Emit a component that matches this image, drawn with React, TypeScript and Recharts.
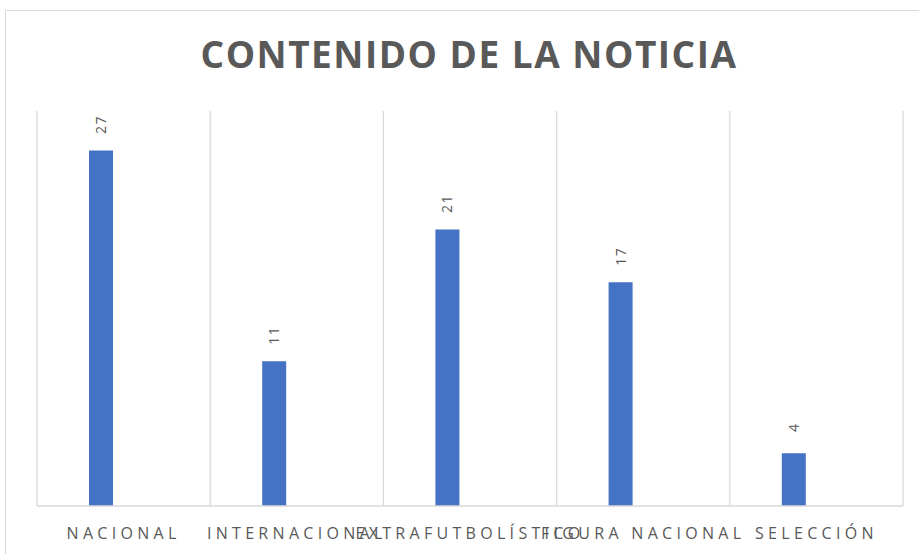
import React from "react";
import { BarChart, Bar, XAxis, YAxis, CartesianGrid, LabelList } from "recharts";

// datos
const categorias = ["NACIONAL", "INTERNACIONAL", "EXTRAFUTBOLÍSTICO", "FIGURA NACIONAL", "SELECCIÓN"];
const noticias = [27, 11, 21, 17, 4];
// segunda serie vacía (deja la barra desplazada a la izquierda como en Excel)
const vacio = [0, 0, 0, 0, 0];
const limites = [0, 1, 2, 3, 4, 5];

const data = categorias.map((c, i) => ({ categoria: c, noticias: noticias[i], vacio: vacio[i], pos: i + 0.5 }));

const gris = "#595959";

const Tick = (props: any) => {
  const { x, y, payload } = props;
  return (
    <text x={x} y={y + 25} textAnchor="middle" fill={gris} fontSize={16} letterSpacing={4.3} fontFamily="Open Sans, sans-serif">
      {payload.value}
    </text>
  );
};

const EtiquetaVertical = (props: any) => {
  const { x, y, width, value } = props;
  const cx = x + width / 2 + 5;
  const cy = y - 26;
  return (
    <text x={cx} y={cy} transform={`rotate(-90 ${cx} ${cy})`} textAnchor="middle" fill={gris} fontSize={14} letterSpacing={1.5} fontFamily="Open Sans, sans-serif">
      {value}
    </text>
  );
};

export default function App() {
  return (
    <div style={{ position: "absolute", left: 0, top: 0, width: 919, height: 554, background: "#fff", overflow: "hidden" }}>
      <div style={{ position: "absolute", left: 5, top: 10, width: 930, height: 560, border: "1px solid #d9d9d9" }} />
      <div
        style={{
          position: "absolute",
          left: 0,
          top: 29,
          width: 938,
          textAlign: "center",
          fontFamily: "Open Sans, sans-serif",
          fontWeight: 700,
          fontSize: 37,
          letterSpacing: 1.5,
          color: gris,
          lineHeight: "50px",
        }}
      >
        CONTENIDO DE LA NOTICIA
      </div>
      <BarChart
        width={919}
        height={554}
        data={data}
        margin={{ top: 111, right: 16, left: 37, bottom: 18 }}
        barGap={22}
        barSize={24}
        style={{ position: "absolute", left: 0, top: 0 }}
      >
        <XAxis xAxisId="grid" type="number" dataKey="pos" domain={[0, 5]} ticks={limites} hide />
        <CartesianGrid xAxisId="grid" horizontal={false} stroke="#d9d9d9" strokeWidth={1.3} />
        <XAxis
          dataKey="categoria"
          interval={0}
          tick={<Tick />}
          tickLine={false}
          height={30}
          axisLine={{ stroke: "#d9d9d9", strokeWidth: 1.3 }}
        />
        <YAxis hide domain={[0, 30]} />
        <Bar dataKey="noticias" fill="#4472C4" isAnimationActive={false}>
          <LabelList dataKey="noticias" content={<EtiquetaVertical />} />
        </Bar>
        <Bar dataKey="vacio" fill="none" isAnimationActive={false} />
      </BarChart>
    </div>
  );
}
